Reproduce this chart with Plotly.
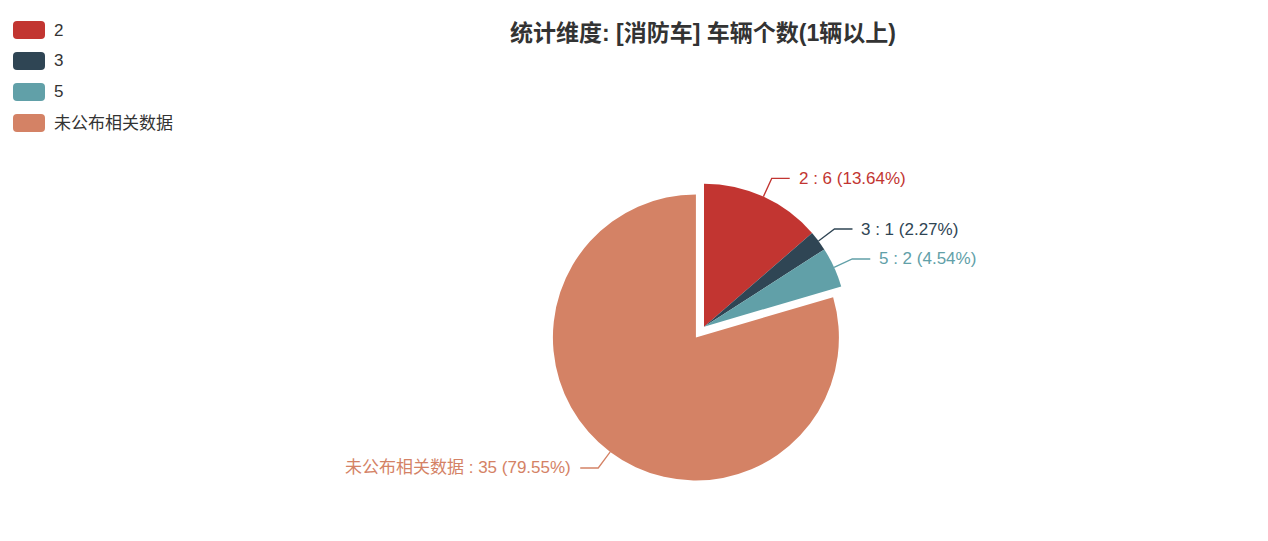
import math
import plotly.graph_objects as go

# ---------------- data ----------------
categories = ["2", "3", "5", "未公布相关数据"]
counts = [6, 1, 2, 35]
percent_labels = ["13.64", "2.27", "4.54", "79.55"]
colors = ["#c23531", "#2f4554", "#61a0a8", "#d48265"]
selected = [False, False, False, True]
title_text = "统计维度: [消防车] 车辆个数(1辆以上)"

# ---------------- layout constants (px) ----------------
W, H = 1268, 541
CX, CY = 704.0, 326.7      # pie centre
R = 143.0                  # pie radius
PULL_PX = 13.5             # offset of the selected slice
L1, L2, GAP = 20.0, 18.0, 7.0
FONT = "Liberation Sans, Noto Sans CJK SC, sans-serif"
TEXT_COLOR = "#333333"
LABEL_SIZE = 17


def px_x(px):
    return px / W


def px_y(py):
    return 1 - py / H


pull_frac = PULL_PX / R
ry = R * (1 + pull_frac)
domain_y = [px_y(CY + ry), px_y(CY - ry)]
domain_x = [px_x(CX - ry - 60), px_x(CX + ry + 60)]

fig = go.Figure()
fig.add_trace(go.Pie(
    labels=categories,
    values=counts,
    marker=dict(colors=colors, line=dict(width=0)),
    sort=False,
    direction="clockwise",
    rotation=0,
    pull=[pull_frac if s else 0 for s in selected],
    textinfo="none",
    hovertemplate="%{label} : %{value} (%{percent})<extra></extra>",
    domain=dict(x=domain_x, y=domain_y),
    showlegend=False,
))

shapes = []
annotations = []

# ---------------- outside labels with leader lines ----------------
total = sum(counts)
cum = 0
for cat, v, pct, col, sel in zip(categories, counts, percent_labels, colors, selected):
    mid = (cum + v / 2) / total * 2 * math.pi
    cum += v
    dx, dy = math.sin(mid), -math.cos(mid)
    ox, oy = (PULL_PX * dx, PULL_PX * dy) if sel else (0.0, 0.0)
    sx, sy = CX + ox + R * dx, CY + oy + R * dy
    ex, ey = CX + ox + (R + L1) * dx, CY + oy + (R + L1) * dy
    side = 1 if dx >= 0 else -1
    hx = ex + side * L2
    shapes.append(dict(
        type="path", xref="paper", yref="paper", layer="above",
        path=f"M {px_x(sx)},{px_y(sy)} L {px_x(ex)},{px_y(ey)} L {px_x(hx)},{px_y(ey)}",
        line=dict(color=col, width=1.3),
    ))
    annotations.append(dict(
        x=px_x(hx + side * GAP), y=px_y(ey), xref="paper", yref="paper",
        text=f"{cat} : {v} ({pct}%)", showarrow=False,
        xanchor="left" if side > 0 else "right", yanchor="middle",
        font=dict(family=FONT, size=LABEL_SIZE, color=col),
    ))

# ---------------- legend (top-left) ----------------
LX, LY0, LW, LH, LSTEP, LRAD = 13.0, 21.0, 32.0, 18.0, 31.0, 4.0
for i, (cat, col) in enumerate(zip(categories, colors)):
    x0, y0 = LX, LY0 + i * LSTEP
    x1, y1 = x0 + LW, y0 + LH
    r = LRAD
    pts = [
        ("M", [(x0 + r, y0)]), ("L", [(x1 - r, y0)]), ("Q", [(x1, y0), (x1, y0 + r)]),
        ("L", [(x1, y1 - r)]), ("Q", [(x1, y1), (x1 - r, y1)]),
        ("L", [(x0 + r, y1)]), ("Q", [(x0, y1), (x0, y1 - r)]),
        ("L", [(x0, y0 + r)]), ("Q", [(x0, y0), (x0 + r, y0)]),
    ]
    path = " ".join(cmd + " " + " ".join(f"{px_x(a)},{px_y(b)}" for a, b in p) for cmd, p in pts) + " Z"
    shapes.append(dict(type="path", xref="paper", yref="paper", path=path,
                       fillcolor=col, line=dict(width=0), layer="above"))
    annotations.append(dict(
        x=px_x(x1 + 7), y=px_y((y0 + y1) / 2), xref="paper", yref="paper",
        text=cat, showarrow=False, xanchor="left", yanchor="middle",
        font=dict(family=FONT, size=LABEL_SIZE, color=TEXT_COLOR),
    ))

fig.update_layout(
    width=W, height=H,
    margin=dict(l=0, r=0, t=0, b=0),
    paper_bgcolor="white", plot_bgcolor="white",
    title=dict(
        text=title_text, x=703 / W, xanchor="center",
        y=px_y(33), yanchor="middle", yref="container",
        font=dict(family=FONT, size=23, color=TEXT_COLOR, weight="bold"),
    ),
    shapes=shapes,
    annotations=annotations,
    showlegend=False,
)

fig.write_html("out.html", config={"displayModeBar": False},
               post_script="document.body.style.margin='0';")
